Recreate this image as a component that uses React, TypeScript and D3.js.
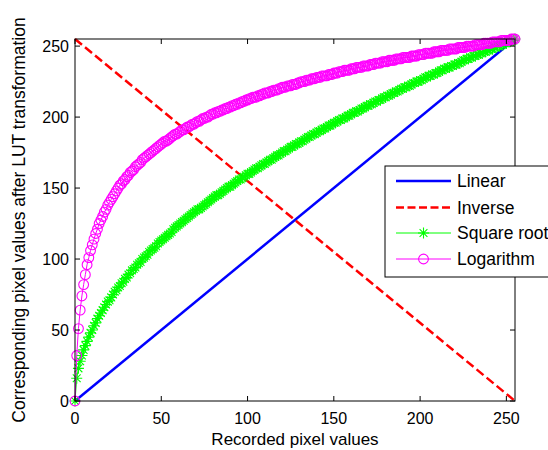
import React from "react";
import * as d3 from "d3";

// ---- data ----
const recordedValues: number[] = d3.range(0, 256);
const linearX = [0, 255];
const linearValues = [0, 255];
const inverseX = [0, 255];
const inverseValues = [255, 0];
const sqrtValues = [
  0,16,23,28,32,36,39,42,45,48,
  50,53,55,58,60,62,64,66,68,70,
  71,73,75,77,78,80,81,83,84,86,
  87,89,90,92,93,94,96,97,98,100,
  101,102,103,105,106,107,108,109,111,112,
  113,114,115,116,117,118,119,121,122,123,
  124,125,126,127,128,129,130,131,132,133,
  134,135,135,136,137,138,139,140,141,142,
  143,144,145,145,146,147,148,149,150,151,
  151,152,153,154,155,156,156,157,158,159,
  160,160,161,162,163,164,164,165,166,167,
  167,168,169,170,170,171,172,173,173,174,
  175,176,176,177,178,179,179,180,181,181,
  182,183,183,184,185,186,186,187,188,188,
  189,190,190,191,192,192,193,194,194,195,
  196,196,197,198,198,199,199,200,201,201,
  202,203,203,204,204,205,206,206,207,208,
  208,209,209,210,211,211,212,212,213,214,
  214,215,215,216,217,217,218,218,219,220,
  220,221,221,222,222,223,224,224,225,225,
  226,226,227,228,228,229,229,230,230,231,
  231,232,233,233,234,234,235,235,236,236,
  237,237,238,238,239,240,240,241,241,242,
  242,243,243,244,244,245,245,246,246,247,
  247,248,248,249,249,250,250,251,251,252,
  252,253,253,254,254,255,
];
const logValues = [
  0,32,51,64,74,82,89,96,101,106,
  110,114,118,121,125,127.5,130,133,135,138,
  140,142,144,146,148,150,152,153,155,156,
  158,159,161,162,163,165,166,167,168,170,
  171,172,173,174,175,176,177,178,179,180,
  181,182,183,183,184,185,186,187,188,188,
  189,190,191,191,192,193,193,194,195,195,
  196,197,197,198,199,199,200,200,201,202,
  202,203,203,204,204,205,205,206,206,207,
  207,208,208,209,209,210,210,211,211,212,
  212,213,213,214,214,214,215,215,216,216,
  217,217,217,218,218,219,219,219,220,220,
  221,221,221,222,222,222,223,223,223,224,
  224,225,225,225,226,226,226,227,227,227,
  228,228,228,229,229,229,229,230,230,230,
  231,231,231,232,232,232,233,233,233,233,
  234,234,234,235,235,235,235,236,236,236,
  236,237,237,237,238,238,238,238,239,239,
  239,239,240,240,240,240,241,241,241,241,
  242,242,242,242,242,243,243,243,243,244,
  244,244,244,245,245,245,245,245,246,246,
  246,246,247,247,247,247,247,248,248,248,
  248,248,249,249,249,249,249,250,250,250,
  250,250,251,251,251,251,251,252,252,252,
  252,252,253,253,253,253,253,254,254,254,
  254,254,254,255,255,255,
];
const xTicks = [0, 50, 100, 150, 200, 250];
const yTicks = [0, 50, 100, 150, 200, 250];
const legendLabels = ["Linear", "Inverse", "Square root", "Logarithm"];
const xLabel = "Recorded pixel values";
const yLabel = "Corresponding pixel values after LUT transformation";

// ---- layout ----
const W = 548, H = 450;
const L = 75, R = 515, T = 39, B = 401;
const FONT = "'Liberation Sans', Arial, Helvetica, sans-serif";
const BLUE = "#0000ff", RED = "#ff0000", GREEN = "#00ff00", MAG = "#ff00ff";
const STAR = "M-5.5,0H5.5M0,-5.5V5.5M-3.9,-3.9L3.9,3.9M-3.9,3.9L3.9,-3.9";

export default function App() {
  const x = d3.scaleLinear().domain([0, 255]).range([L, R]);
  const y = d3.scaleLinear().domain([0, 255]).range([B, T]);
  const line = d3.line<[number, number]>().x(d => x(d[0])).y(d => y(d[1]));
  const linPts = linearX.map((v, i) => [v, linearValues[i]] as [number, number]);
  const invPts = inverseX.map((v, i) => [v, inverseValues[i]] as [number, number]);
  const sqrtPts = recordedValues.map((v, i) => [v, sqrtValues[i]] as [number, number]);
  const logPts = recordedValues.map((v, i) => [v, logValues[i]] as [number, number]);
  const tickLen = 5;

  const legX0 = 385, legY0 = 166, legY1 = 277;
  const legRows = [181, 207.5, 233, 259];
  const sx0 = 396, sx1 = 451;
  const sm = (sx0 + sx1) / 2;

  return (
    <svg width={W} height={H} style={{ position: "absolute", left: 0, top: 0, background: "#fff" }}
      fontFamily={FONT}>
      <rect x={0} y={0} width={W} height={H} fill="#fff" />
      {/* series */}
      <path d={line(linPts) || ""} fill="none" stroke={BLUE} strokeWidth={2.5} />
      <path d={line(invPts) || ""} fill="none" stroke={RED} strokeWidth={2.5} strokeDasharray="9,4" />
      <path d={line(sqrtPts) || ""} fill="none" stroke={GREEN} strokeWidth={1} />
      {sqrtPts.map((p, i) => (
        <path key={"s" + i} d={STAR} transform={`translate(${x(p[0])},${y(p[1])})`}
          fill="none" stroke={GREEN} strokeWidth={1.1} />
      ))}
      <path d={line(logPts) || ""} fill="none" stroke={MAG} strokeWidth={1} />
      {logPts.map((p, i) => (
        <circle key={"l" + i} cx={x(p[0])} cy={y(p[1])} r={4.9}
          fill="none" stroke={MAG} strokeWidth={1.1} />
      ))}
      {/* axes box */}
      <rect x={L} y={T} width={R - L} height={B - T} fill="none" stroke="#000" strokeWidth={1} />
      {xTicks.map(t => (
        <g key={"xt" + t}>
          <line x1={x(t)} x2={x(t)} y1={B} y2={B - tickLen} stroke="#000" />
          <line x1={x(t)} x2={x(t)} y1={T} y2={T + tickLen} stroke="#000" />
          <text x={x(t)} y={423.5} fontSize={16} textAnchor="middle" fill="#000">{t}</text>
        </g>
      ))}
      {yTicks.map(t => (
        <g key={"yt" + t}>
          <line x1={L} x2={L + tickLen} y1={y(t)} y2={y(t)} stroke="#000" />
          <line x1={R} x2={R - tickLen} y1={y(t)} y2={y(t)} stroke="#000" />
          <text x={69} y={y(t) + 5.7} fontSize={16} textAnchor="end" fill="#000">{t}</text>
        </g>
      ))}
      <text x={(L + R) / 2} y={445} fontSize={17} textAnchor="middle" fill="#000">{xLabel}</text>
      <text transform={`translate(24.5,${(T + B) / 2}) rotate(-90)`} fontSize={17.5}
        textAnchor="middle" fill="#000">{yLabel}</text>
      {/* legend */}
      <rect x={legX0} y={legY0} width={175} height={legY1 - legY0} fill="#fff" stroke="#000" strokeWidth={1} />
      <line x1={sx0} x2={sx1} y1={legRows[0]} y2={legRows[0]} stroke={BLUE} strokeWidth={2.5} />
      <line x1={sx0} x2={sx1} y1={legRows[1]} y2={legRows[1]} stroke={RED} strokeWidth={2.5} strokeDasharray="8,3.5" />
      <line x1={sx0} x2={sx1} y1={legRows[2]} y2={legRows[2]} stroke={GREEN} strokeWidth={1} />
      <path d={STAR} transform={`translate(${sm},${legRows[2]})`} fill="none" stroke={GREEN} strokeWidth={1.1} />
      <line x1={sx0} x2={sx1} y1={legRows[3]} y2={legRows[3]} stroke={MAG} strokeWidth={1} />
      <circle cx={sm} cy={legRows[3]} r={4.9} fill="none" stroke={MAG} strokeWidth={1.1} />
      {legendLabels.map((lab, i) => (
        <text key={lab} x={457} y={legRows[i] + 6} fontSize={17.5} fill="#000">{lab}</text>
      ))}
    </svg>
  );
}
